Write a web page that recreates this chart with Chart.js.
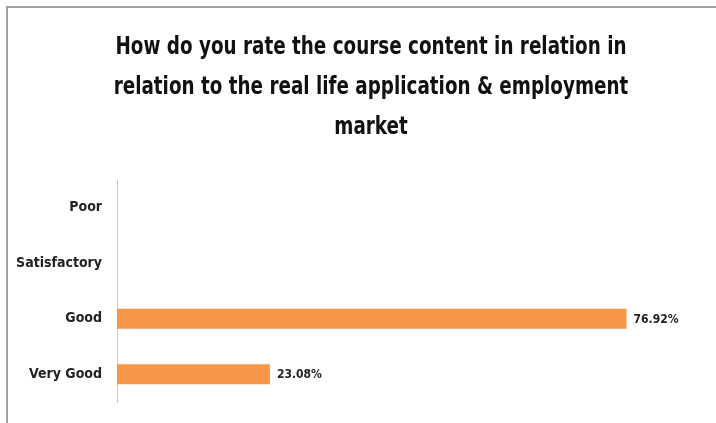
<!DOCTYPE html>
<html>
<head>
<meta charset="utf-8">
<script src="https://cdn.jsdelivr.net/npm/chart.js@4"></script>
<style>
  html, body { margin: 0; padding: 0; background: #fff; }
  #wrap { position: relative; width: 716px; height: 423px; overflow: hidden; }
  #frame { position: absolute; left: 6px; top: 6px; width: 720px; height: 430px;
           border-top: 2px solid #a0a0a0; border-left: 2px solid #a0a0a0; box-sizing: border-box; }
  canvas { position: absolute; left: 0; top: 0; }
</style>
</head>
<body>
<div id="wrap">
  <div id="frame"></div>
  <canvas id="c" width="716" height="423"></canvas>
</div>
<script>
const categories = ["Poor", "Satisfactory", "Good", "Very Good"];
const percentages = [null, null, 76.92, 23.08];
const valueLabels = ["", "", "76.92%", "23.08%"];
const titleLines = ["How do you rate the course content in relation in",
                    "relation to the real life application & employment",
                    "market"];

const FONT = "'DejaVu Sans Condensed', 'Liberation Sans Narrow', sans-serif";

// Title drawn with slight horizontal condensing to mimic the narrow original face
const condensedTitlePlugin = {
  id: 'condensedTitle',
  afterDraw(chart) {
    const ctx = chart.ctx;
    const cx = 371, squeeze = 0.85;
    const ys = [48, 88, 128];
    ctx.save();
    ctx.font = "bold 24px " + FONT;
    ctx.fillStyle = "#111";
    ctx.textAlign = "center";
    ctx.textBaseline = "middle";
    ctx.translate(cx, 0);
    ctx.scale(squeeze, 1);
    titleLines.forEach((line, i) => ctx.fillText(line, 0, ys[i]));
    ctx.restore();
  }
};

const valueLabelPlugin = {
  id: 'valueLabels',
  afterDatasetsDraw(chart) {
    const ctx = chart.ctx;
    const meta = chart.getDatasetMeta(0);
    ctx.save();
    ctx.font = "bold 12px " + FONT;
    ctx.fillStyle = "#222";
    ctx.textBaseline = "middle";
    ctx.textAlign = "left";
    meta.data.forEach((bar, i) => {
      if (!valueLabels[i]) return;
      ctx.fillText(valueLabels[i], bar.x + 7, bar.y + 1);
    });
    ctx.restore();
  }
};

new Chart(document.getElementById('c'), {
  type: 'bar',
  data: {
    labels: categories,
    datasets: [{
      data: percentages,
      backgroundColor: '#f79646',
      borderWidth: 0,
      barPercentage: 0.72,
      categoryPercentage: 0.5
    }]
  },
  options: {
    indexAxis: 'y',
    responsive: false,
    animation: false,
    layout: { padding: { left: 0, right: 26, top: 180, bottom: 21 } },
    plugins: {
      legend: { display: false },
      tooltip: { enabled: false },
      title: { display: false }
    },
    scales: {
      x: { display: false, min: 0, max: 86.5 },
      y: {
        grid: { display: false },
        border: { display: true, color: '#c8c8c8', width: 1 },
        ticks: { color: '#222', padding: 7, font: { family: FONT, size: 14, weight: 'bold' } },
        afterFit(scale) { scale.width = 117; }
      }
    }
  },
  plugins: [valueLabelPlugin, condensedTitlePlugin]
});
</script>
</body>
</html>
